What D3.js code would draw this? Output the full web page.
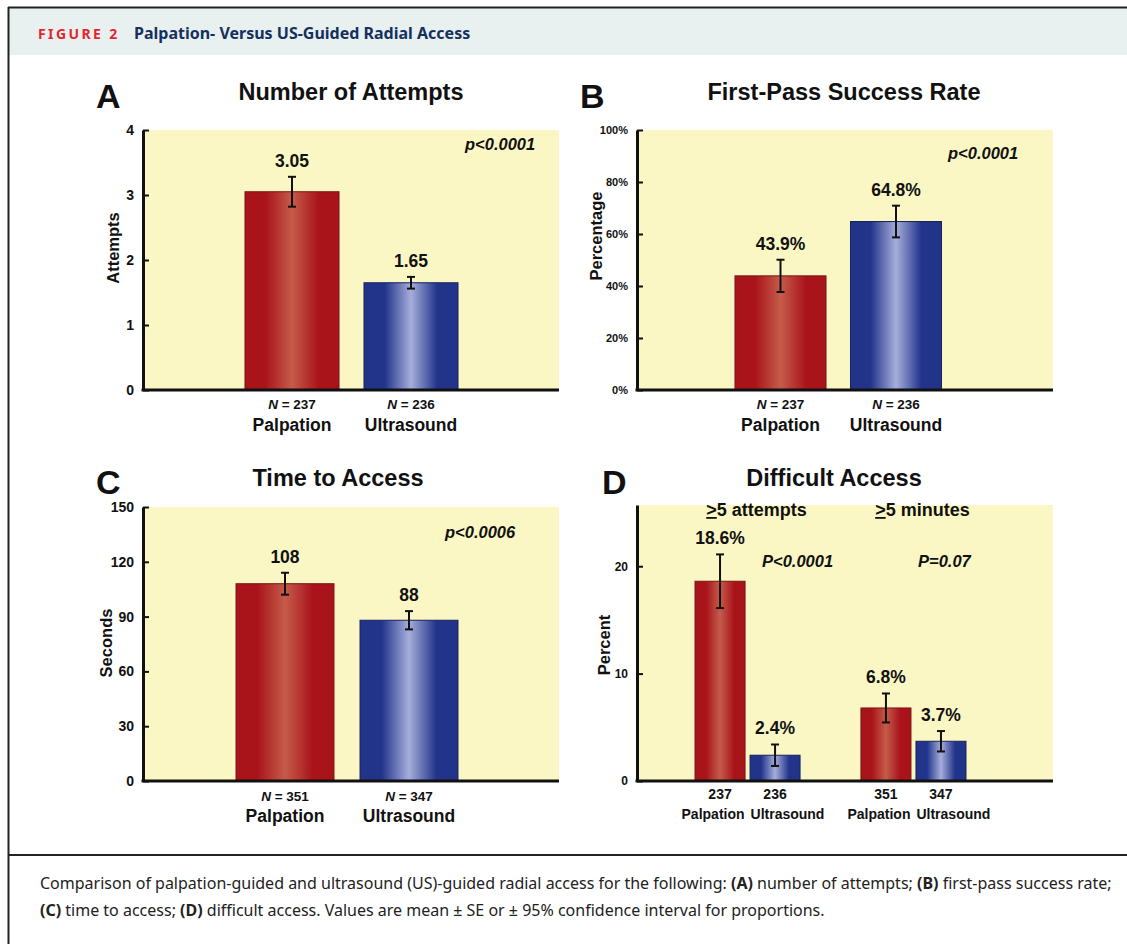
<!DOCTYPE html>
<html lang="en">
<head>
    <meta charset="UTF-8">
    <title>Palpation- Versus US-Guided Radial Access</title>
    <script src="https://d3js.org/d3.v7.min.js"></script>
    <style>
        body { margin: 0; background: #fff; }
        svg { display: block; }
        .chart text { font-family: "Liberation Sans", Arial, sans-serif; font-weight: bold; fill: #111; }
        .caption { font-family: "Noto Sans", sans-serif; font-size: 16px; fill: #222; }
    </style>
</head>
<body>
<svg width="1127" height="944"></svg>
<script>
// ---- data ----
const groups = ["Palpation", "Ultrasound"];

const attemptsMean = [3.05, 1.65];
const attemptsSE = [0.23, 0.09];
const attemptsN = [237, 236];
const attemptsTicks = [0, 1, 2, 3, 4];

const firstPassPct = [43.9, 64.8];
const firstPassCI = [6.2, 6.1];
const firstPassN = [237, 236];
const percentTicks = [0, 20, 40, 60, 80, 100];

const timeMean = [108, 88];
const timeSE = [6, 5];
const timeN = [351, 347];
const secondTicks = [0, 30, 60, 90, 120, 150];

const difficultOutcomes = ["attempts", "minutes"];
const difficultHeaders = ["5 attempts", "5 minutes"];
const difficultPct = [[18.6, 2.4], [6.8, 3.7]];
const difficultCI = [[2.5, 1.0], [1.35, 0.95]];
const difficultN = [[237, 236], [351, 347]];
const difficultP = ["P<0.0001", "P=0.07"];
const difficultTicks = [0, 10, 20];

const svg = d3.select("svg");

// gradients for the shaded bars
const defs = svg.append("defs");
function gradient(id, dark, light) {
    const g = defs.append("linearGradient").attr("id", id);
    [[0, dark], [0.22, dark], [0.5, light], [0.78, dark], [1, dark]].forEach(s =>
        g.append("stop").attr("offset", s[0]).attr("stop-color", s[1]));
}
gradient("red", "#a9141b", "#c55c4a");
gradient("blue", "#22338a", "#a6aedb");
const fills = ["url(#red)", "url(#blue)"];
const strokes = ["#7c1014", "#18225e"];

// ---- frame, header, caption ----
svg.append("rect").attr("x", 9).attr("y", 8).attr("width", 1118).attr("height", 47).attr("fill", "#e8f1f0");
svg.append("line").attr("x1", 8).attr("x2", 1127).attr("y1", 7.5).attr("y2", 7.5).attr("stroke", "#222").attr("stroke-width", 2);
svg.append("line").attr("x1", 8.5).attr("x2", 8.5).attr("y1", 7).attr("y2", 944).attr("stroke", "#222").attr("stroke-width", 2);
svg.append("line").attr("x1", 8).attr("x2", 1127).attr("y1", 855).attr("y2", 855).attr("stroke", "#222").attr("stroke-width", 2);

const head = svg.append("text").attr("x", 38).attr("y", 39)
    .style("font-family", "'Noto Sans', sans-serif").style("font-weight", "bold");
head.append("tspan").text("FIGURE 2").attr("fill", "#e3262d").style("font-size", "14px").style("letter-spacing", "2.4px");
head.append("tspan").text("Palpation- Versus US-Guided Radial Access").attr("x", 134).attr("fill", "#15305e").style("font-size", "16px");

const cap1 = svg.append("text").attr("class", "caption").attr("x", 40).attr("y", 889);
cap1.append("tspan").text("Comparison of palpation-guided and ultrasound (US)-guided radial access for the following: ");
cap1.append("tspan").text("(A)").style("font-weight", "bold");
cap1.append("tspan").text(" number of attempts; ");
cap1.append("tspan").text("(B)").style("font-weight", "bold");
cap1.append("tspan").text(" first-pass success rate;");
const cap2 = svg.append("text").attr("class", "caption").attr("x", 40).attr("y", 916);
cap2.append("tspan").text("(C)").style("font-weight", "bold");
cap2.append("tspan").text(" time to access; ");
cap2.append("tspan").text("(D)").style("font-weight", "bold");
cap2.append("tspan").text(" difficult access. Values are mean \u00b1 SE or \u00b1 95% confidence interval for proportions.");

const chart = svg.append("g").attr("class", "chart");

// ---- shared panel pieces ----
function panelFrame(p) {
    const g = chart.append("g");
    const y = d3.scaleLinear().domain(p.domain).range([p.bottom, p.top]);
    g.append("rect").attr("x", p.left).attr("y", p.top).attr("width", p.right - p.left)
        .attr("height", p.bottom - p.top).attr("fill", "#faf7c5");
    g.append("text").attr("x", p.letterX).attr("y", p.titleY + 8).text(p.letter).style("font-size", "34px");
    g.append("text").attr("x", p.titleX).attr("y", p.titleY).attr("text-anchor", "middle")
        .text(p.title).style("font-size", "23.5px");
    g.append("text").attr("transform", `translate(${p.ylabX},${p.ylabY}) rotate(-90)`)
        .attr("text-anchor", "middle").text(p.ylab).style("font-size", "16.5px");
    return { g, y };
}

function axes(g, y, p) {
    const ax = g.append("g").attr("transform", `translate(${p.left},0)`)
        .call(d3.axisLeft(y).tickValues(p.ticks).tickFormat(p.fmt || (d => d))
            .tickSizeInner(-6).tickSizeOuter(0).tickPadding(9));
    ax.select(".domain").attr("stroke", "#111").attr("stroke-width", 3);
    ax.selectAll(".tick line").attr("stroke", "#111").attr("stroke-width", 2);
    ax.selectAll(".tick text").style("font-size", p.tickFont).style("font-family", "'Liberation Sans', Arial, sans-serif")
        .style("font-weight", "bold").attr("fill", "#111");
    g.append("line").attr("x1", p.left - 1.5).attr("x2", p.right).attr("y1", p.bottom).attr("y2", p.bottom)
        .attr("stroke", "#111").attr("stroke-width", 3);
}

function bars(g, y, x, vals, errs, labels, capW) {
    vals.forEach((v, i) => {
        const cx = x(groups[i]) + x.bandwidth() / 2;
        g.append("rect").attr("x", x(groups[i])).attr("y", y(v)).attr("width", x.bandwidth())
            .attr("height", y(0) - y(v)).attr("fill", fills[i]).attr("stroke", strokes[i]).attr("stroke-width", 1);
        const hi = y(v + errs[i]), lo = y(v - errs[i]);
        g.append("line").attr("x1", cx).attr("x2", cx).attr("y1", hi).attr("y2", lo).attr("stroke", "#111").attr("stroke-width", 2);
        [hi, lo].forEach(yy => g.append("line").attr("x1", cx - capW).attr("x2", cx + capW)
            .attr("y1", yy).attr("y2", yy).attr("stroke", "#111").attr("stroke-width", 2));
        g.append("text").attr("x", cx).attr("y", hi - 10).attr("text-anchor", "middle")
            .text(labels[i]).style("font-size", "17.5px");
    });
}

function nLabels(g, x, ns, yN, yName) {
    groups.forEach((c, i) => {
        const cx = x(c) + x.bandwidth() / 2;
        const t = g.append("text").attr("x", cx).attr("y", yN).attr("text-anchor", "middle").style("font-size", "13.5px");
        t.append("tspan").text("N").style("font-style", "italic");
        t.append("tspan").text(" = " + ns[i]);
        g.append("text").attr("x", cx).attr("y", yName).attr("text-anchor", "middle").text(c).style("font-size", "17.5px");
    });
}

function pText(g, x, y, s, size) {
    g.append("text").attr("x", x).attr("y", y).text(s).style("font-style", "italic").style("font-size", size || "16.5px");
}

// ---- A: number of attempts ----
{
    const p = { left: 143, right: 559, top: 130, bottom: 390, domain: [0, 4], ticks: attemptsTicks, tickFont: "14px",
        letter: "A", letterX: 96, title: "Number of Attempts", titleX: 351, titleY: 100,
        ylab: "Attempts", ylabX: 119, ylabY: 248 };
    const { g, y } = panelFrame(p);
    const x = d3.scaleBand().domain(groups).range([232.5, 470.5]).paddingInner(0.21).paddingOuter(0.105);
    bars(g, y, x, attemptsMean, attemptsSE, attemptsMean.map(d => d.toFixed(2)), 4);
    axes(g, y, p);
    nLabels(g, x, attemptsN, 409, 431);
    pText(g, 465, 150, "p<0.0001");
}

// ---- B: first-pass success rate ----
{
    const p = { left: 637, right: 1053, top: 130, bottom: 390, domain: [0, 100], ticks: percentTicks, tickFont: "11px",
        fmt: d => d + "%", letter: "B", letterX: 580, title: "First-Pass Success Rate", titleX: 844, titleY: 100,
        ylab: "Percentage", ylabX: 602, ylabY: 236 };
    const { g, y } = panelFrame(p);
    const x = d3.scaleBand().domain(groups).range([722.75, 953.75]).paddingInner(0.212).paddingOuter(0.106);
    bars(g, y, x, firstPassPct, firstPassCI, firstPassPct.map(d => d.toFixed(1) + "%"), 4);
    axes(g, y, p);
    nLabels(g, x, firstPassN, 409, 431);
    pText(g, 948, 159, "p<0.0001");
}

// ---- C: time to access ----
{
    const p = { left: 143, right: 559, top: 507, bottom: 781, domain: [0, 150], ticks: secondTicks, tickFont: "14px",
        letter: "C", letterX: 96, title: "Time to Access", titleX: 338, titleY: 486,
        ylab: "Seconds", ylabX: 112, ylabY: 643 };
    const { g, y } = panelFrame(p);
    const x = d3.scaleBand().domain(groups).range([223, 471]).paddingInner(0.21).paddingOuter(0.105);
    bars(g, y, x, timeMean, timeSE, timeMean.map(String), 4);
    axes(g, y, p);
    nLabels(g, x, timeN, 801, 822);
    pText(g, 445, 538, "p<0.0006");
}

// ---- D: difficult access ----
{
    const p = { left: 637, right: 1053, top: 505, bottom: 781, domain: [0, 25.7], ticks: difficultTicks, tickFont: "12px",
        letter: "D", letterX: 602, title: "Difficult Access", titleX: 834, titleY: 486,
        ylab: "Percent", ylabX: 610, ylabY: 645 };
    const { g, y } = panelFrame(p);
    const outer = d3.scaleBand().domain(difficultOutcomes).range([664.5, 996.5]).paddingInner(0.367).paddingOuter(0.184);
    const inner = d3.scaleBand().domain(groups).range([0, outer.bandwidth()]).paddingInner(0.091).paddingOuter(0);
    difficultOutcomes.forEach((o, k) => {
        const gg = g.append("g").attr("transform", `translate(${outer(o)},0)`);
        bars(gg, y, inner, difficultPct[k], difficultCI[k], difficultPct[k].map(d => d.toFixed(1) + "%"), 4);
        const half = outer.bandwidth() / 2;
        groups.forEach((c, i) => {
            const cx = inner(c) + inner.bandwidth() / 2;
            gg.append("text").attr("x", cx).attr("y", 799).attr("text-anchor", "middle").text(difficultN[k][i]).style("font-size", "14px");
            gg.append("text").attr("x", i === 0 ? half - 3 : half + 3).attr("y", 819)
                .attr("text-anchor", i === 0 ? "end" : "start").text(c).style("font-size", "14px");
        });
        const mid = outer(o) + half + 9;
        const h = g.append("text").attr("x", mid).attr("y", 516).attr("text-anchor", "middle").style("font-size", "18px");
        h.append("tspan").text(">").style("text-decoration", "underline");
        h.append("tspan").text(difficultHeaders[k]);
    });
    axes(g, y, p);
    pText(g, 762, 567, difficultP[0]);
    pText(g, 918, 567, difficultP[1]);
}
</script>
</body>
</html>
